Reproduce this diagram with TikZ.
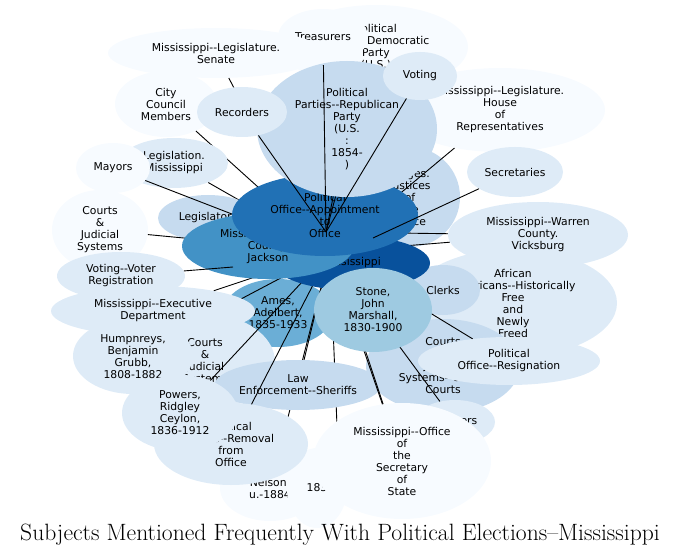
\documentclass[tikz,border=0pt]{standalone}
\usepackage{fontspec}
\newfontfamily\labfont{DejaVu Sans}[Ligatures=TeXOff]
\usetikzlibrary{shapes.geometric}
\definecolor{bl1}{HTML}{F7FBFF}
\definecolor{bl2}{HTML}{DEEBF7}
\definecolor{bl3}{HTML}{C6DBEF}
\definecolor{bl4}{HTML}{9ECAE1}
\definecolor{bl5}{HTML}{6BAED6}
\definecolor{bl6}{HTML}{4292C6}
\definecolor{bl7}{HTML}{2171B5}
\definecolor{bl8}{HTML}{08519C}
\begin{document}
\begin{tikzpicture}[x=1pt,y=-1pt,
    bub/.style={ellipse, inner sep=0pt, align=center, font=\labfont\fontsize{10.8}{12}\selectfont},
    conn/.style={black, line width=0.9pt}]
        \useasboundingbox (0,0) rectangle (680,556);
        \coordinate (mshub) at (330,252);
        \coordinate (tophub) at (326,232);
        \coordinate (senend) at (236,92);
        \coordinate (vrend) at (233,267);
        \coordinate (secend) at (373,238);

        \node[bub, fill=bl1, minimum width=184pt, minimum height=84pt] (dem) at (376,47) {Political\\Parties--Democratic\\Party\\(U.S.)};
        \node[bub, fill=bl1, minimum width=90pt, minimum height=56pt] (treas) at (323,37) {Treasurers};
        \node[bub, fill=bl1, minimum width=216pt, minimum height=50pt] (senate) at (216,53) {Mississippi--Legislature.\\Senate};
        \node[bub, fill=bl1, minimum width=102pt, minimum height=66pt] (city) at (166,104) {City\\Council\\Members};
        \node[bub, fill=bl1, minimum width=210pt, minimum height=84pt] (house) at (500,110) {Mississippi--Legislature.\\House\\of\\Representatives};

        \draw[conn] (senate) -- (senend);
        \draw[conn] (city) -- (mshub);

        \node[bub, fill=bl2, minimum width=108pt, minimum height=50pt] (leg) at (174,163) {Legislation.\\Mississippi};
        \draw[conn] (leg) -- (mshub);
        \node[bub, fill=bl1, minimum width=74pt, minimum height=50pt] (mayors) at (113,168) {Mayors};
        \node[bub, fill=bl1, minimum width=96pt, minimum height=80pt] (courtsA) at (100,230) {Courts\\\&\\Judicial\\Systems};
        \node[bub, fill=bl3, minimum width=100pt, minimum height=46pt] (legr) at (208,218) {Legislators};
        \draw[conn] (mayors) -- (mshub);
        \draw[conn] (courtsA) -- (mshub);

        \node[bub, fill=bl3, minimum width=100pt, minimum height=100pt] (judges) at (410,197) {Judges.\\Justices\\of\\the\\Peace};
        \node[bub, fill=bl2, minimum width=96pt, minimum height=50pt] (secr) at (515,172) {Secretaries};
        \draw[conn] (house) -- (mshub);

        \node[bub, fill=bl2, minimum width=180pt, minimum height=66pt] (warren) at (538,235) {Mississippi--Warren\\County.\\Vicksburg};
        \node[bub, fill=bl2, minimum width=208pt, minimum height=108pt] (african) at (513,303) {African\\Americans--Historically\\Free\\and\\Newly\\Freed};
        \node[bub, fill=bl3, minimum width=74pt, minimum height=50pt] (clerks) at (443,290) {Clerks};
        \node[bub, fill=bl3, minimum width=154pt, minimum height=94pt] (courtsC) at (443,366) {Courts\\\&\\Judicial\\Systems--Circuit\\Courts};
        \node[bub, fill=bl2, minimum width=182pt, minimum height=48pt] (resign) at (509,361) {Political\\Office--Resignation};
        \node[bub, fill=bl2, minimum width=80pt, minimum height=44pt] (lawyers) at (455,422) {Lawyers};
        \draw[conn] (resign) -- (mshub);
        \draw[conn] (lawyers) -- (mshub);

        \node[bub, fill=bl2, minimum width=128pt, minimum height=48pt] (votreg) at (121,276) {Voting--Voter\\Registration};
        \node[bub, fill=bl5, minimum width=110pt, minimum height=68pt] (ames) at (278,313) {Ames,\\Adelbert,\\1835-1933};
        \node[bub, fill=bl2, minimum width=140pt, minimum height=96pt] (courtsB) at (205,362) {Courts\\\&\\Judicial\\Systems};
        \node[bub, fill=bl2, minimum width=120pt, minimum height=76pt] (hum) at (133,356) {Humphreys,\\Benjamin\\Grubb,\\1808-1882};
        \draw[conn] (hum) -- (mshub);
        \node[bub, fill=bl2, minimum width=204pt, minimum height=50pt] (exec) at (153,311) {Mississippi--Executive\\Department};
        \draw[conn] (exec) -- (mshub);

        \node[bub, fill=bl1, minimum width=100pt, minimum height=66pt] (nelson) at (270,488) {Nelson,\\u.-1884};
        \node[bub, fill=bl1, minimum width=60pt, minimum height=80pt] (n183) at (317,488) {183};
        \draw[conn] (nelson) -- (mshub);
        \draw[conn] (n183.north east) -- (mshub);
        \node[bub, fill=bl3, minimum width=164pt, minimum height=50pt] (law) at (298,385) {Law\\Enforcement--Sheriffs};
        \draw[conn] (law) -- (mshub);
        \node[bub, fill=bl2, minimum width=154pt, minimum height=82pt] (removal) at (231,444) {Political\\Office--Removal\\from\\Office};
        \draw[conn] (removal) -- (mshub);
        \node[bub, fill=bl2, minimum width=116pt, minimum height=76pt] (powers) at (180,413) {Powers,\\Ridgley\\Ceylon,\\1836-1912};
        \draw[conn] (powers) -- (mshub);
        \node[bub, fill=bl1, minimum width=178pt, minimum height=116pt] (secstate) at (402,461) {Mississippi--Office\\of\\the\\Secretary\\of\\State};
        \draw[conn] (secstate) -- (mshub);
        \draw[conn] (secstate) -- (tophub);
        \draw[conn] (warren) -- (mshub);
        \draw[conn] (warren) -- (tophub);

        \node[bub, fill=bl8, minimum width=156pt, minimum height=54pt] (ms) at (352,263) {Mississippi};
        \node[bub, fill=bl6, minimum width=172pt, minimum height=66pt] (jackson) at (268,246) {Mississippi--Hinds\\County.\\Jackson};
        \draw[conn] (votreg) -- (vrend);
        \node[bub, fill=bl4, minimum width=118pt, minimum height=84pt] (stone) at (373,310) {Stone,\\John\\Marshall,\\1830-1900};
        \node[bub, fill=bl7, minimum width=186pt, minimum height=82pt] (app) at (325,215) {Political\\Office--Appointment\\to\\Office};
        \draw[conn] (secr) -- (secend);
        \draw[conn] (dem) -- (tophub);

        \node[bub, fill=bl3, minimum width=180pt, minimum height=136pt] (rep) at (347,129) {Political\\Parties--Republican\\Party\\(U.S.\\:\\1854-\\)};
        \draw[conn] (rep) -- (tophub);
        \draw[conn] (treas) -- (tophub);
        \node[bub, fill=bl2, minimum width=90pt, minimum height=50pt] (rec) at (242,112) {Recorders};
        \node[bub, fill=bl2, minimum width=74pt, minimum height=48pt] (voting) at (420,76) {Voting};
        \draw[conn] (rec) -- (tophub);
        \draw[conn] (voting) -- (tophub);

        \node (title) at (340,535) {\fontsize{23.6}{26}\selectfont Subjects Mentioned Frequently With Political Elections--Mississippi};
\end{tikzpicture}
\end{document}
